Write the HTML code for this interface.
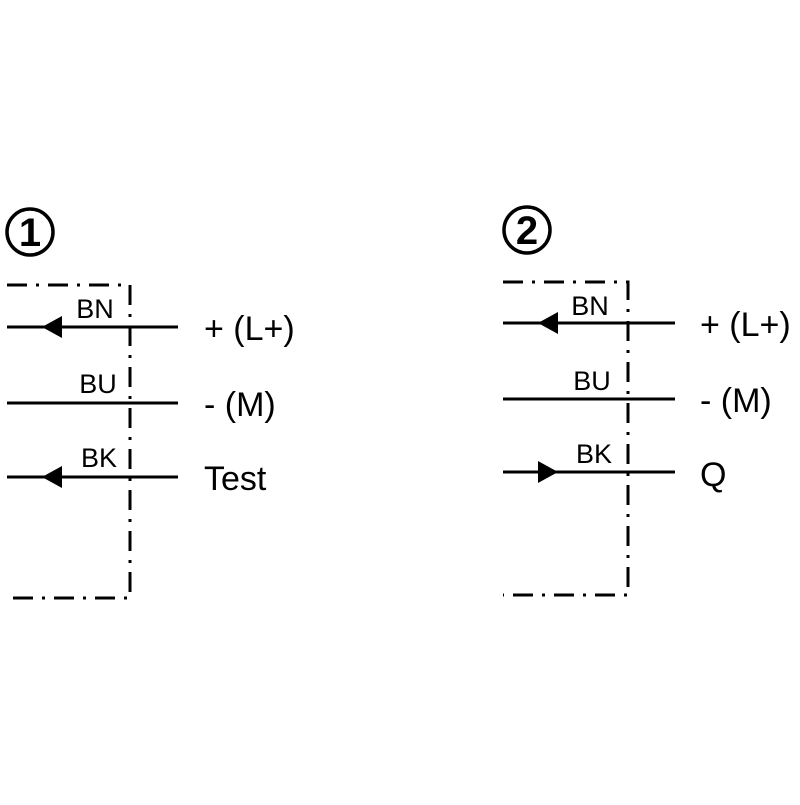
<!DOCTYPE html>
<html><head><style>body{margin:0;background:#fff}</style></head><body>
<svg width="800" height="800" viewBox="0 0 800 800" xmlns="http://www.w3.org/2000/svg" font-family="Liberation Sans, sans-serif">
<rect width="800" height="800" fill="#fff"/>
<g stroke="#000" stroke-width="3" fill="none">
  <circle cx="30" cy="232" r="23" stroke-width="3.5"/>
  <path d="M7 285 H130 V598 H7" stroke-dasharray="20 9 3 9"/>
  <line x1="7" y1="327" x2="178" y2="327"/>
  <line x1="7" y1="403" x2="178" y2="403"/>
  <line x1="7" y1="477" x2="178" y2="477"/>
  <circle cx="527" cy="230" r="23" stroke-width="3.5"/>
  <path d="M503 282 H628 V595 H503" stroke-dasharray="20 9 3 9"/>
  <line x1="503" y1="323" x2="675" y2="323"/>
  <line x1="503" y1="399" x2="675" y2="399"/>
  <line x1="503" y1="472" x2="675" y2="472"/>
</g>
<g fill="#000">
  <polygon points="42,327 62,316 62,338"/>
  <polygon points="42,477 62,466 62,488"/>
  <polygon points="538,323 558,312 558,334"/>
  <polygon points="558,472 538,461 538,483"/>
  <text x="30" y="246" font-size="40" font-weight="bold" text-anchor="middle">1</text>
  <text x="527" y="244" font-size="40" font-weight="bold" text-anchor="middle">2</text>
</g>
<g font-size="27" fill="#000" text-anchor="middle">
  <text x="95" y="318">BN</text>
  <text x="98" y="393">BU</text>
  <text x="99" y="467">BK</text>
  <text x="590" y="315">BN</text>
  <text x="592" y="390">BU</text>
  <text x="594" y="463">BK</text>
</g>
<g font-size="34" fill="#000">
  <text x="204" y="340">+ (L+)</text>
  <text x="204" y="416">- (M)</text>
  <text x="204" y="490">Test</text>
  <text x="700" y="336">+ (L+)</text>
  <text x="700" y="412">- (M)</text>
  <text x="700" y="486">Q</text>
</g>
</svg>
</body></html>
